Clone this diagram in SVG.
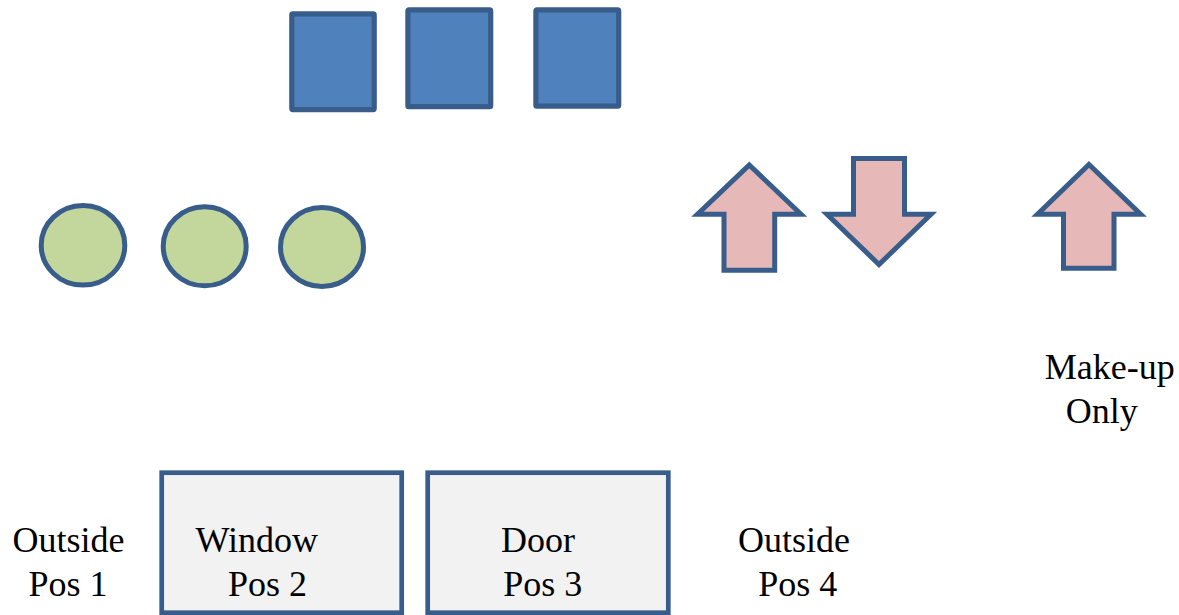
<svg xmlns="http://www.w3.org/2000/svg" width="1179" height="615" viewBox="0 0 1179 615">
<style>
.sq{fill:#4f81bd;stroke:#385d8a;stroke-width:5.2;stroke-linejoin:round}
.ci{fill:#c3d69b;stroke:#385d8a;stroke-width:5}
.ar{fill:#e6b9b8;stroke:#385d8a;stroke-width:5;stroke-linejoin:miter;stroke-miterlimit:10}
.bx{fill:#f2f2f2;stroke:#385d8a;stroke-width:4.7}
.t{font-family:"Liberation Serif",serif;font-size:36px;fill:#000;text-anchor:middle}
</style>
<rect width="1179" height="615" fill="#fff"/>
<g id="square1"><rect class="sq" x="291.8" y="13.8" width="82.4" height="95.8" rx="1"/></g>
<g id="square2"><rect class="sq" x="407.9" y="9.9" width="82.8" height="96.8" rx="1"/></g>
<g id="square3"><rect class="sq" x="535.9" y="9.9" width="82.8" height="96.3" rx="1"/></g>
<g id="circle1"><ellipse class="ci" cx="83" cy="245.3" rx="41.8" ry="39.8"/></g>
<g id="circle2"><ellipse class="ci" cx="204.7" cy="246.3" rx="41.5" ry="39.5"/></g>
<g id="circle3"><ellipse class="ci" cx="322" cy="247" rx="41.5" ry="39.5"/></g>
<g id="arrow-up1"><polygon class="ar" points="749.3,165 801,214.3 774.7,214.3 774.7,270.2 724,270.2 724,214.3 697.5,214.3"/></g>
<g id="arrow-down"><polygon class="ar" points="853.5,158.5 904.5,158.5 904.5,214.3 931,214.3 879,264.5 827,214.3 853.5,214.3"/></g>
<g id="arrow-up2"><polygon class="ar" points="1089,164.5 1140.7,214.3 1114,214.3 1114,268.2 1063.5,268.2 1063.5,214.3 1037.5,214.3"/></g>
<g id="box-window"><rect class="bx" x="161.7" y="472.7" width="240" height="140"/></g>
<g id="box-door"><rect class="bx" x="427.7" y="472.7" width="240.6" height="140"/></g>
<g id="connectors"></g>
<g id="labels">
<text class="t" x="68.5" y="552">Outside</text>
<text class="t" x="68" y="596">Pos 1</text>
<text class="t" x="256.7" y="552">Window</text>
<text class="t" x="267.5" y="596">Pos 2</text>
<text class="t" x="538" y="552">Door</text>
<text class="t" x="542.8" y="596">Pos 3</text>
<text class="t" x="794" y="552">Outside</text>
<text class="t" x="797.8" y="596">Pos 4</text>
<text class="t" x="1109.7" y="379">Make-up</text>
<text class="t" x="1101.7" y="423">Only</text>
</g>
</svg>
